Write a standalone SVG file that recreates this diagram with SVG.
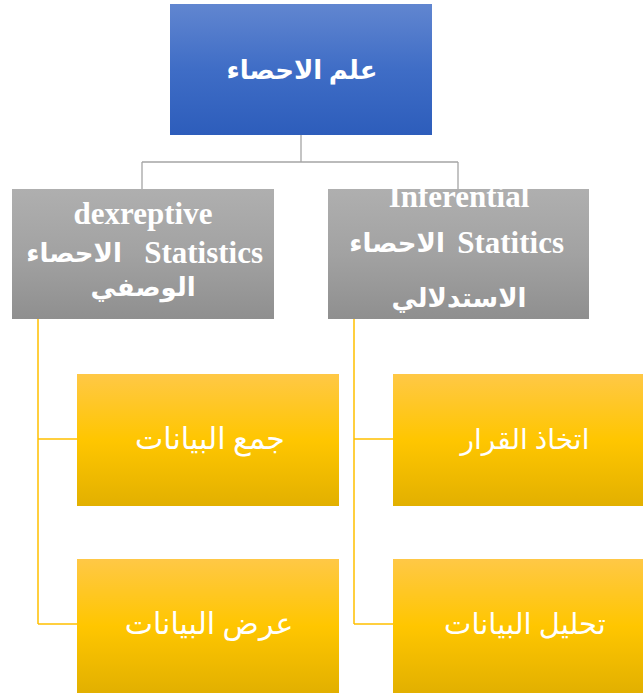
<svg xmlns="http://www.w3.org/2000/svg" width="643" height="693" viewBox="0 0 643 693">
<defs>
<linearGradient id="gBlue" x1="0" y1="0" x2="0" y2="1"><stop offset="0" stop-color="#6186D0"/><stop offset="0.5" stop-color="#3F6DC6"/><stop offset="1" stop-color="#2D5DBB"/></linearGradient>
<linearGradient id="gGray" x1="0" y1="0" x2="0" y2="1"><stop offset="0" stop-color="#AFAFAF"/><stop offset="0.5" stop-color="#A2A2A2"/><stop offset="1" stop-color="#8F8F8F"/></linearGradient>
<linearGradient id="gGold" x1="0" y1="0" x2="0" y2="1"><stop offset="0" stop-color="#FFC846"/><stop offset="0.5" stop-color="#FFC600"/><stop offset="1" stop-color="#E2B000"/></linearGradient>
</defs>
<style>
.ar{font-family:"Liberation Serif","DejaVu Sans",serif;fill:#fff;text-anchor:middle}
.b{font-weight:bold}
.en{font-family:"Liberation Serif",serif;font-weight:bold;fill:#fff;font-size:31px}
.gray{stroke:#A5A5A5;stroke-width:1.3;fill:none}
.gold{stroke:#FFC000;stroke-width:1.5;fill:none}
</style>
<g id="connectors">
<path class="gray" d="M301 135V162M142 162H458M142 162V189M458 162V189"/>
<path class="gold" d="M38 319V624M38 439H77M38 624H77"/>
<path class="gold" d="M354 319V624M354 439H393M354 624H393"/>
</g>
<g id="root">
<rect x="170" y="4" width="262" height="131" fill="url(#gBlue)"/>
<text class="ar b" x="302" y="79" font-size="26">علم الاحصاء</text>
</g>
<g id="descriptive">
<rect x="12" y="189" width="262" height="130" fill="url(#gGray)"/>
<text class="en" x="143" y="224" text-anchor="middle">dexreptive</text>
<text class="ar b" x="74" y="262" font-size="26">الاحصاء</text>
<text class="en" x="263" y="263" text-anchor="end">Statistics</text>
<text class="ar b" x="143" y="296" font-size="26">الوصفي</text>
</g>
<g id="inferential">
<rect x="328" y="189" width="261" height="130" fill="url(#gGray)"/>
<text class="en" x="459" y="207" text-anchor="middle">Inferential</text>
<text class="ar b" x="397" y="252" font-size="26">الاحصاء</text>
<text class="en" x="564" y="253" text-anchor="end">Statitics</text>
<text class="ar b" x="459" y="307" font-size="26">الاستدلالي</text>
</g>
<g id="collect">
<rect x="77" y="374" width="262" height="132" fill="url(#gGold)"/>
<text class="ar" x="210" y="449" font-size="30">جمع البيانات</text>
</g>
<g id="present">
<rect x="77" y="559" width="262" height="134" fill="url(#gGold)"/>
<text class="ar" x="209" y="634" font-size="30">عرض البيانات</text>
</g>
<g id="decision">
<rect x="393" y="374" width="250" height="132" fill="url(#gGold)"/>
<text class="ar" x="525" y="449" font-size="28">اتخاذ القرار</text>
</g>
<g id="analysis">
<rect x="393" y="559" width="250" height="134" fill="url(#gGold)"/>
<text class="ar" x="525" y="634" font-size="29">تحليل البيانات</text>
</g>
</svg>
